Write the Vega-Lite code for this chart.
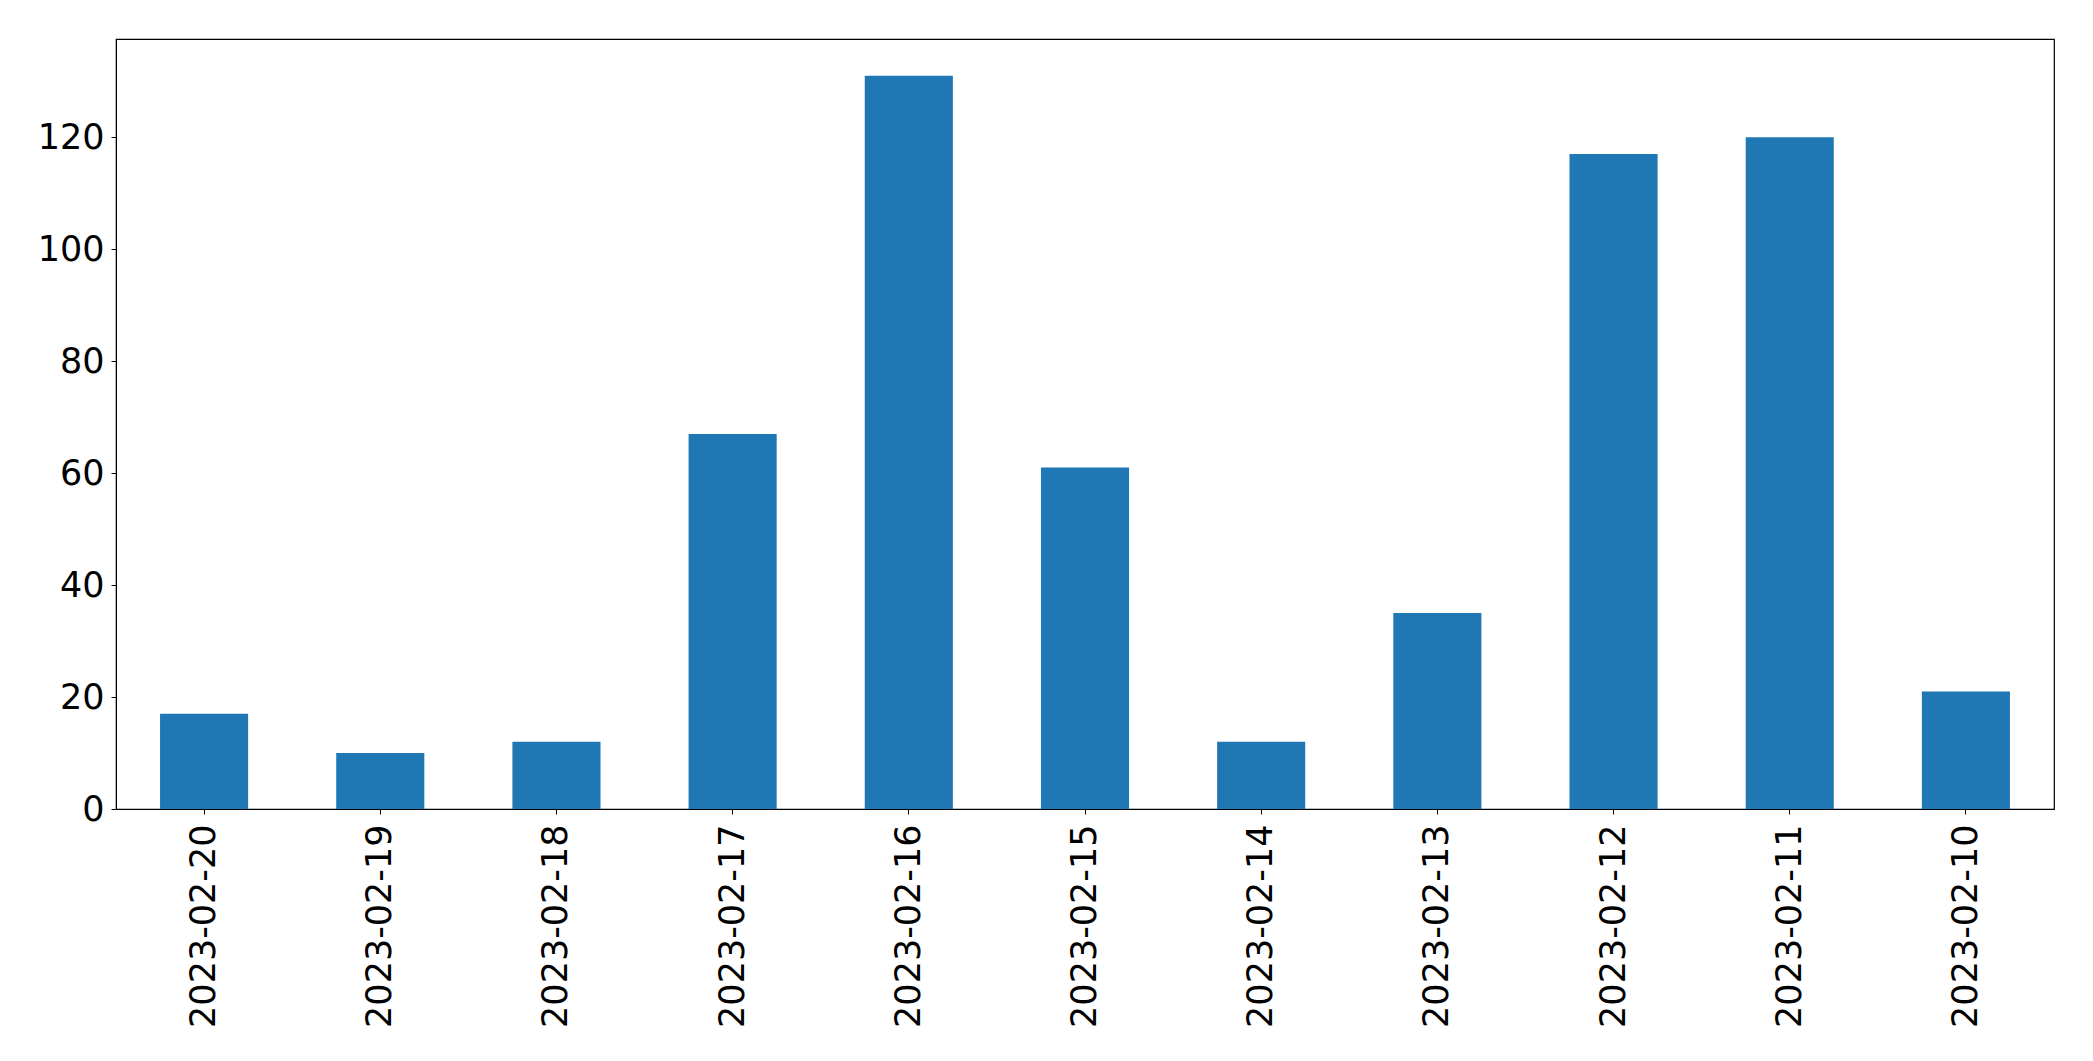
{
  "$schema": "https://vega.github.io/schema/vega-lite/v6.json",
  "autosize": "none",
  "width": 1938,
  "height": 770,
  "padding": {"left": 116, "top": 39, "right": 39, "bottom": 252},
  "background": "white",
  "data": {
    "values": [
      {"date": "2023-02-20", "count": 17},
      {"date": "2023-02-19", "count": 10},
      {"date": "2023-02-18", "count": 12},
      {"date": "2023-02-17", "count": 67},
      {"date": "2023-02-16", "count": 131},
      {"date": "2023-02-15", "count": 61},
      {"date": "2023-02-14", "count": 12},
      {"date": "2023-02-13", "count": 35},
      {"date": "2023-02-12", "count": 117},
      {"date": "2023-02-11", "count": 120},
      {"date": "2023-02-10", "count": 21}
    ]
  },
  "mark": {"type": "bar", "color": "#1f77b4"},
  "encoding": {
    "x": {
      "field": "date",
      "type": "nominal",
      "sort": null,
      "scale": {"paddingInner": 0.5, "paddingOuter": 0.25},
      "axis": {
        "title": null,
        "labelAngle": -90,
        "labelAlign": "right",
        "labelBaseline": "middle",
        "labelFont": "DejaVu Sans",
        "labelFontSize": 35,
        "labelColor": "black",
        "labelPadding": 10,
        "labelLimit": 500,
        "tickSize": 5,
        "tickColor": "black",
        "domainColor": "black",
        "grid": false
      }
    },
    "y": {
      "field": "count",
      "type": "quantitative",
      "scale": {"domain": [0, 137.55], "nice": false},
      "axis": {
        "title": null,
        "values": [0, 20, 40, 60, 80, 100, 120],
        "labelFont": "DejaVu Sans",
        "labelFontSize": 35,
        "labelColor": "black",
        "labelPadding": 7,
        "tickSize": 5,
        "tickColor": "black",
        "domainColor": "black",
        "grid": false
      }
    }
  },
  "config": {
    "view": {"stroke": "black", "strokeWidth": 1.2}
  }
}
